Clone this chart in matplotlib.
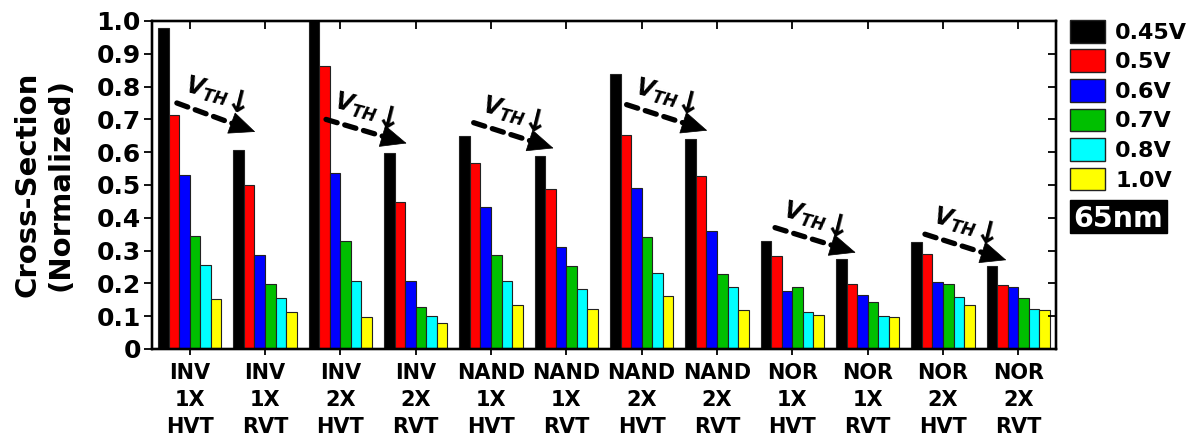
import numpy as np
import matplotlib
matplotlib.use("Agg")
import matplotlib.pyplot as plt
from matplotlib.patches import Rectangle
from matplotlib.ticker import FixedLocator, FuncFormatter, NullFormatter

# cell types on the x axis
categories = ["INV\n1X\nHVT", "INV\n1X\nRVT", "INV\n2X\nHVT", "INV\n2X\nRVT",
              "NAND\n1X\nHVT", "NAND\n1X\nRVT", "NAND\n2X\nHVT", "NAND\n2X\nRVT",
              "NOR\n1X\nHVT", "NOR\n1X\nRVT", "NOR\n2X\nHVT", "NOR\n2X\nRVT"]

# normalized cross-section per supply voltage
voltages = ["0.45V", "0.5V", "0.6V", "0.7V", "0.8V", "1.0V"]
v045 = [0.98, 0.607, 1.00, 0.598, 0.649, 0.588, 0.838, 0.640, 0.330, 0.274, 0.325, 0.253]
v050 = [0.712, 0.500, 0.863, 0.447, 0.566, 0.487, 0.652, 0.528, 0.285, 0.197, 0.290, 0.196]
v060 = [0.530, 0.288, 0.536, 0.207, 0.432, 0.311, 0.490, 0.359, 0.176, 0.164, 0.203, 0.188]
v070 = [0.345, 0.198, 0.328, 0.128, 0.287, 0.253, 0.342, 0.229, 0.188, 0.142, 0.198, 0.155]
v080 = [0.255, 0.156, 0.206, 0.101, 0.207, 0.182, 0.231, 0.188, 0.112, 0.101, 0.158, 0.121]
v100 = [0.152, 0.112, 0.097, 0.079, 0.135, 0.122, 0.161, 0.118, 0.105, 0.099, 0.135, 0.119]
series = [v045, v050, v060, v070, v080, v100]

colors = ["#000000", "#ff0000", "#0000ff", "#00bf00", "#00ffff", "#ffff00"]

# dashed VTH arrows: (x_start, y_start, x_end, y_end)
vth_arrows = [(-0.17, 0.750, 0.87, 0.662),
              (1.81, 0.700, 2.88, 0.627),
              (3.77, 0.690, 4.83, 0.612),
              (5.80, 0.745, 6.87, 0.666),
              (7.77, 0.370, 8.84, 0.294),
              (9.76, 0.350, 10.84, 0.271)]

plt.rcParams["font.family"] = ["DejaVu Sans"]
plt.rcParams["font.weight"] = "bold"
plt.rcParams["mathtext.fontset"] = "custom"
plt.rcParams["mathtext.it"] = "DejaVu Sans:italic:bold"
plt.rcParams["mathtext.rm"] = "DejaVu Sans:bold"

fig = plt.figure(figsize=(11.93, 4.43), dpi=100)
ax = fig.add_axes([0.1274, 0.2122, 0.7578, 0.7404])

x = np.arange(len(categories))
width = 0.14
for i, (vals, c) in enumerate(zip(series, colors)):
    ax.bar(x + (i - 2.5) * width, vals, width, color=c, edgecolor="#222222",
           linewidth=0.8, label=voltages[i], zorder=2)

ax.set_xlim(-0.5, len(categories) - 0.5)
ax.set_ylim(0, 1.0)
yt = np.round(np.arange(0, 1.01, 0.1), 1)
ax.yaxis.set_major_locator(FixedLocator(yt))
ax.yaxis.set_major_formatter(FuncFormatter(lambda v, p: "0" if v == 0 else f"{v:.1f}"))
ax.set_xticks(x)
ax.set_xticklabels(categories, fontsize=15, fontweight="bold", linespacing=1.45)
for lab in ax.get_yticklabels():
    lab.set_fontsize(18)
    lab.set_fontweight("bold")

for s in ax.spines.values():
    s.set_linewidth(1.6)
ax.tick_params(axis="y", direction="out", length=6, width=1.3, pad=2)
ax.tick_params(axis="x", direction="out", length=4, width=1.3, pad=6)

# inward ticks on right and top
axr = ax.twinx()
axr.set_ylim(0, 1.0)
axr.yaxis.set_major_locator(FixedLocator(yt))
axr.yaxis.set_major_formatter(NullFormatter())
axr.tick_params(axis="y", direction="in", length=6, width=1.3)
axt = ax.twiny()
axt.set_xlim(ax.get_xlim())
axt.set_xticks(x)
axt.xaxis.set_major_formatter(NullFormatter())
axt.tick_params(axis="x", direction="in", length=6, width=1.3)
for a in (axr, axt):
    for s in a.spines.values():
        s.set_linewidth(1.6)

fig.text(0.037, 0.583, "Cross-Section\n(Normalized)", fontsize=21, fontweight="bold",
         rotation=90, ha="center", va="center", multialignment="center",
         linespacing=1.2)

# VTH annotations
for (xs, ys, xe, ye) in vth_arrows:
    ax.plot([xs, xe - 0.12 * (xe - xs)], [ys, ye - 0.12 * (ye - ys)], color="black",
            lw=3.8, ls=(0, (2.2, 1.5)), dash_capstyle="round", zorder=4)
    ax.annotate("", xy=(xe, ye), xytext=(xe - 0.2 * (xe - xs), ye - 0.2 * (ye - ys)),
                arrowprops=dict(arrowstyle="-|>,head_length=0.8,head_width=0.35",
                                color="black", lw=0.5, mutation_scale=22,
                                shrinkA=0, shrinkB=0), zorder=5)
    ax.annotate(r"$V_{TH}$", xy=(xs, ys), xytext=(5, 8),
                textcoords="offset points", fontsize=17, rotation=-14,
                rotation_mode="anchor", ha="left", va="baseline", zorder=5)
    ax.annotate("\u2193", xy=(xs, ys), xytext=(44, -1),
                textcoords="offset points", fontsize=22, fontweight="bold",
                rotation=-14, ha="center", va="center", zorder=5)

leg = ax.legend(loc="upper left", bbox_to_anchor=(0.8969, 0.955),
                bbox_transform=fig.transFigure, frameon=False, fontsize=16,
                handlelength=1.58, handleheight=1.2, handletextpad=0.45,
                labelspacing=0.3, borderpad=0, borderaxespad=0)
for t in leg.get_texts():
    t.set_fontweight("bold")
for h in leg.legend_handles:
    h.set_edgecolor("#222222")
    h.set_linewidth(1.0)

fig.patches.append(Rectangle((0.8969, 0.474), 0.0813, 0.0745, transform=fig.transFigure,
                             facecolor="black", edgecolor="black"))
fig.text(0.9375, 0.4876, "65nm", color="white", fontsize=20.5, fontweight="bold",
         ha="center", va="baseline")

fig.savefig("out.png", dpi=100)
